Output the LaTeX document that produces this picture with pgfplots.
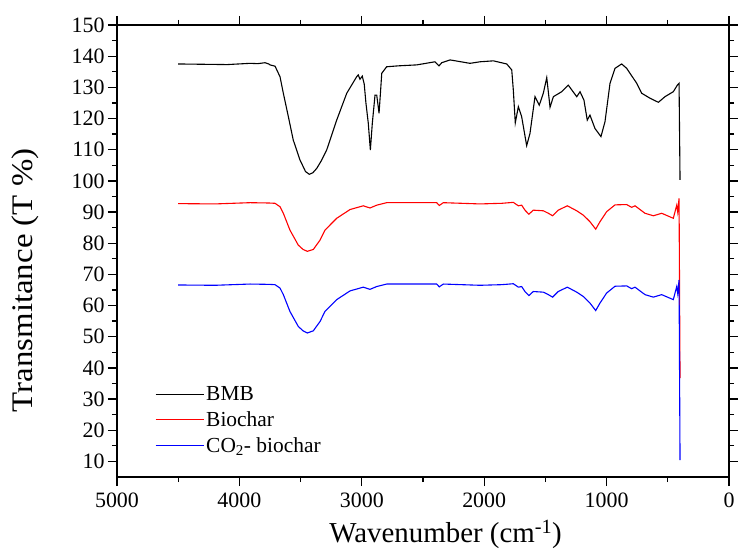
\documentclass[border=0pt]{standalone}
\usepackage{fontspec}
\setmainfont{Liberation Serif}
\usepackage{graphicx}
\usepackage{pgfplots}
\pgfplotsset{compat=1.18}

\begin{document}
\begin{tikzpicture}
\begin{axis}[
  name=ax,
  scale only axis,
  width=612bp, height=452bp,
  x dir=reverse,
  xmin=0, xmax=5000, ymin=5, ymax=150,
  xtick={0,1000,...,5000}, minor x tick num=1,
  ytick={10,20,...,150}, minor y tick num=1,
  scaled ticks=false,
  /pgf/number format/1000 sep={},
  /pgf/number format/assume math mode=true,
  tick align=outside,
  major tick length=9bp, minor tick length=5bp,
  axis line style={line width=1.8bp},
  every tick/.style={black, line width=1.3bp},
  tick label style={font=\fontsize{22}{26}\selectfont},
  xticklabel style={yshift=-3bp},
  xlabel={Wavenumber (cm\textsuperscript{-1})},
  xlabel style={font=\fontsize{29}{34}\selectfont,
    at={(axis description cs:0.537,-0.126)}, anchor=center},
  ylabel={\scalebox{1.1}[1]{Transmitance (T \%)}},
  ylabel style={font=\fontsize{30}{34}\selectfont,
    at={(axis description cs:-0.150,0.435)}, anchor=center},
  legend style={draw=none, fill=none, at={(axis description cs:0.062,0.205)},
    anchor=north west, font=\fontsize{21.5}{24}\selectfont,
    row sep=5.5bp, inner sep=0pt},
  legend cell align=left,
  legend image code/.code={\draw[#1] (0bp,0bp) -- (48bp,0bp);},
]
% BMB
\addplot[black, line width=1.1bp] coordinates {
(4500,137.5) (4300,137.4) (4100,137.3) (3913,137.7) (3850,137.6) (3791,137.9)
(3760,137.5) (3750,137.2) (3709,136.8) (3668,133.4) (3641,128.1) (3600,120.6)
(3560,113.1) (3505,106.7) (3460,103.0) (3429,102.1) (3400,102.6) (3368,104.0)
(3330,106.5) (3287,109.9) (3205,119.5) (3123,128.1) (3042,133.4) (3029,134.0)
(3015,132.6) (2996,133.6) (2980,131.0) (2966,124.9) (2947,118.5) (2930,109.9)
(2914,118.5) (2892,127.5) (2878,127.5) (2859,121.7) (2848,128.0) (2837,134.5)
(2797,136.6) (2700,136.9) (2551,137.2) (2402,138.2) (2369,136.9) (2347,137.9)
(2279,138.8) (2116,137.7) (2034,138.2) (1925,138.5) (1816,137.5) (1775,135.6)
(1762,129.1) (1746,118.6) (1721,123.8) (1694,120.6) (1653,111.3) (1626,115.2)
(1585,127.0) (1550,124.3) (1517,128.1) (1489,133.1) (1462,123.6) (1435,127.0)
(1367,128.6) (1313,130.7) (1244,127.0) (1217,128.6) (1185,125.9) (1158,119.5)
(1136,121.1) (1095,116.8) (1046,114.2) (1013,119.0) (972,131.3) (931,136.1)
(877,137.5) (836,136.1) (754,131.3) (713,128.1) (645,126.5) (577,125.2)
(523,127.0) (455,128.6) (422,130.7) (408,131.3) (400,100.3)
};
% Biochar
\addplot[red, line width=1.1bp] coordinates {
(4500,92.7) (4200,92.6) (3913,93.0) (3760,92.9) (3709,92.8) (3668,91.7)
(3641,89.6) (3587,84.2) (3519,79.4) (3480,78.0) (3445,77.4) (3396,78.0)
(3341,81.0) (3301,84.2) (3205,88.0) (3096,90.8) (2988,92.0) (2933,91.3)
(2878,92.2) (2797,93.0) (2388,93.0) (2367,92.1) (2334,93.0) (2034,92.6)
(1857,92.8) (1762,93.1) (1721,92.0) (1694,92.2) (1667,90.6) (1635,89.3)
(1599,90.6) (1517,90.4) (1476,89.6) (1441,88.8) (1395,90.6) (1321,92.0)
(1244,90.4) (1190,89.0) (1136,86.9) (1089,84.5) (1054,86.9) (1000,90.1)
(931,92.3) (836,92.4) (795,91.5) (768,92.0) (686,89.6) (618,88.8)
(550,89.6) (455,88.0) (441,90.1) (427,92.2) (419,90.0) (408,94.4) (400,36.7)
};
% CO2-biochar
\addplot[blue, line width=1.1bp] coordinates {
(4500,66.6) (4200,66.5) (3913,66.9) (3760,66.8) (3709,66.7) (3668,65.6)
(3641,63.5) (3587,58.1) (3519,53.3) (3480,51.9) (3445,51.2) (3396,51.9)
(3341,54.9) (3301,58.1) (3205,61.9) (3096,64.7) (2988,65.9) (2933,65.2)
(2878,66.1) (2797,66.9) (2388,66.9) (2367,66.0) (2334,66.9) (2034,66.5)
(1857,66.7) (1762,67.0) (1721,65.9) (1694,66.1) (1667,64.5) (1635,63.2)
(1599,64.5) (1517,64.3) (1476,63.5) (1441,62.7) (1395,64.5) (1321,65.9)
(1244,64.3) (1190,62.9) (1136,60.8) (1089,58.4) (1054,60.8) (1000,64.0)
(931,66.2) (836,66.3) (795,65.4) (768,65.9) (686,63.5) (618,62.7)
(550,63.5) (455,61.9) (441,64.0) (427,66.1) (419,63.9) (408,68.2) (400,10.4)
};
\legend{BMB, Biochar, CO\textsubscript{2}- biochar}
\end{axis}
\pgfresetboundingbox
\path[use as bounding box] ([xshift=-117bp,yshift=-82bp]ax.south west)
  rectangle ([xshift=9bp,yshift=25bp]ax.north east);
\end{tikzpicture}
\end{document}
